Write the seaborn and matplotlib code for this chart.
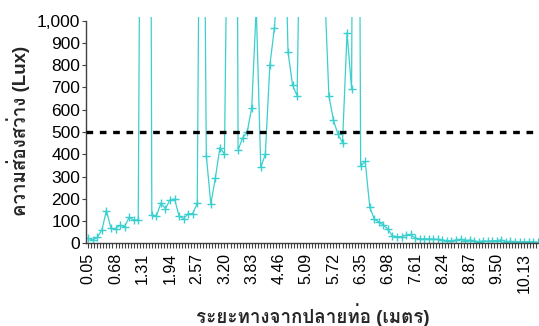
import numpy as np
import pandas as pd
import matplotlib
matplotlib.use("Agg")
import matplotlib.pyplot as plt
import seaborn as sns
from matplotlib import font_manager
from matplotlib.ft2font import FT2Font
from matplotlib.ticker import FixedLocator, FuncFormatter

# Illuminance measured along the light pipe (lux), one reading per station
lux = [
    22, 15, 27, 60, 147, 67, 66, 81, 75, 117,
    105, 105, 3800, 6800, 127, 123, 180, 156, 195, 199,
    123, 111, 133, 133, 180, 3100, 394, 175, 295, 430,
    400, 2200, 6000, 419, 474, 499, 609, 1060, 341, 400,
    800, 967, 1250, 1750, 859, 710, 663, 1950, 2600, 3100,
    2900, 2300, 1180, 663, 553, 490, 452, 946, 695, 5000,
    347, 368, 163, 108, 96, 82, 63, 33, 30, 30,
    37, 40, 24, 20, 20, 20, 19, 18, 15, 12,
    12, 15, 18, 12, 15, 12, 7, 12, 9, 12,
    12, 15, 7, 9, 7, 7, 7, 7, 7, 4,
]
# Station positions from the pipe outlet (m), sampled every 0.105 m
distance_m = np.round(0.05 + 0.105 * np.arange(len(lux)), 3)
label_every = 6
standard_lux = 500

x_title = "ระยะทางจากปลายท่อ (เมตร)"
y_title = "ความส่องสว่าง (Lux)"


def fonts_with(char):
    names = []
    for entry in font_manager.fontManager.ttflist:
        try:
            cmap = FT2Font(entry.fname).get_charmap()
        except Exception:
            continue
        if ord(char) in cmap and entry.name not in names:
            names.append(entry.name)
    return names


thai_fonts = fonts_with("ส")
families = ["Liberation Sans"] + thai_fonts + ["DejaVu Sans"]

sns.set_theme(style="ticks")
plt.rcParams["font.family"] = families
plt.rcParams["axes.unicode_minus"] = False

W, H = 539, 326
fig = plt.figure(figsize=(W / 100, H / 100), dpi=100)
left, right, top, bottom = 86, 539, 16.7, 243.3
ax = fig.add_axes([left / W, 1 - bottom / H, (right - left) / W, (bottom - top) / H])

df = pd.DataFrame({"distance": distance_m, "lux": lux})
sns.lineplot(
    data=df, x="distance", y="lux", ax=ax,
    color="#3CCFCF", linewidth=0.9,
    marker="+", markersize=6, markeredgewidth=1.0,
    markeredgecolor="#3CCFCF", zorder=2,
)
ax.axhline(standard_lux, color="black", linewidth=2.4,
           linestyle=(0, (2, 2)), dash_capstyle="butt", zorder=3)

step = 0.105
ax.set_xlim(distance_m[0] - step / 2, distance_m[0] - step / 2 + (right - left) * step / 4.54)
ax.set_ylim(0, 1018)
ax.spines["left"].set_bounds(0, 1000)
sns.despine(ax=ax)

major = distance_m[::label_every]
ax.set_xticks(major)
ax.set_xticklabels([f"{v:.2f}" for v in major], rotation=90)
ax.xaxis.set_minor_locator(FixedLocator(np.arange(distance_m[0], ax.get_xlim()[1], step * label_every / 9)))
ax.set_yticks(np.arange(0, 1001, 100))
ax.yaxis.set_major_formatter(FuncFormatter(lambda v, _: f"{int(v):,}"))

for spine in ("left", "bottom"):
    ax.spines[spine].set_color("#404040")
    ax.spines[spine].set_linewidth(1.0)
ax.tick_params(axis="both", which="both", direction="out", color="#404040",
               width=0.8, labelcolor="black")
ax.tick_params(axis="y", length=3, pad=1.0, labelsize=12.5)
ax.tick_params(axis="x", which="major", length=3.5, pad=3.5, labelsize=11.5)
ax.tick_params(axis="x", which="minor", length=3.5)
ax.set_xlabel("")
ax.set_ylabel("")

fig.text(18 / W, 1 - 131 / H, y_title, rotation=90, ha="center", va="center",
         fontsize=13.5, fontweight="bold")
fig.text(313 / W, 1 - 315 / H, x_title, ha="center", va="center",
         fontsize=13.5, fontweight="bold")

fig.savefig("out.png", dpi=100)
